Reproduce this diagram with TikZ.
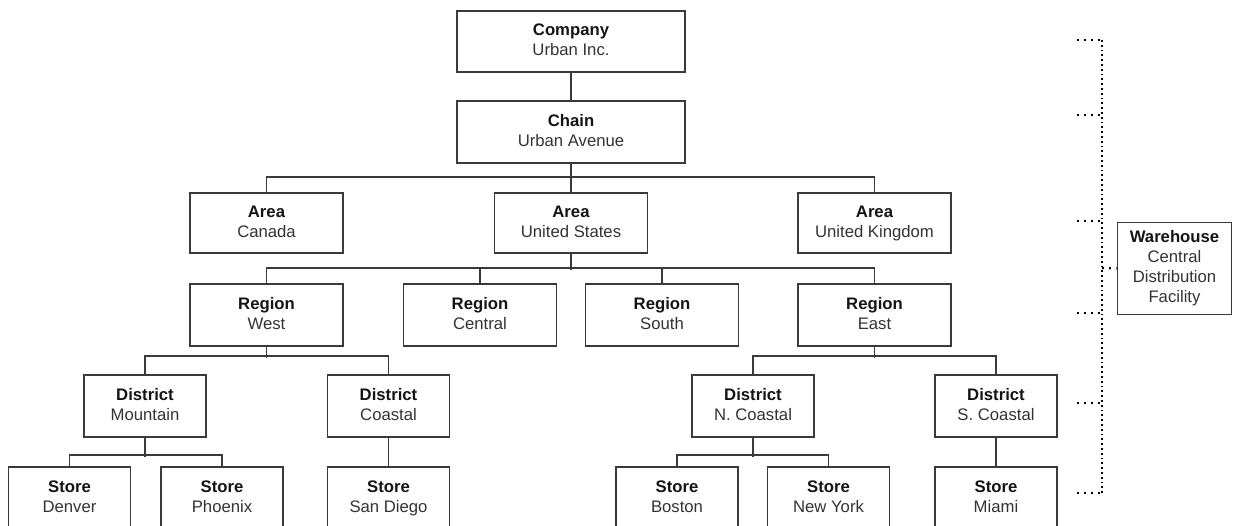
\documentclass[tikz,border=0pt]{standalone}
\usepackage{fontspec}
\setmainfont{Liberation Sans}
\definecolor{boxline}{HTML}{3A3A3A}
\definecolor{titletext}{HTML}{141414}
\definecolor{subtext}{HTML}{333333}
\newcommand{\orgtitle}[1]{{\color{titletext}\bfseries #1}\strut}
\newcommand{\orgsub}[1]{#1\strut}
\begin{document}
\begin{tikzpicture}[x=1pt,y=-1pt,
  orgbox/.style={draw=boxline, line width=1.6pt, rectangle, inner sep=0pt,
    align=center, text=subtext, font=\fontsize{16.7}{20}\selectfont,
    minimum height=61pt},
  wide/.style={orgbox, minimum width=228pt},
  mid/.style={orgbox, minimum width=153pt},
  small/.style={orgbox, minimum width=122pt},
  conn/.style={draw=boxline, line width=1.5pt},
  dotconn/.style={draw=black, line width=2.2pt, dash pattern=on 1.8pt off 3pt},
  tickconn/.style={draw=black, line width=2.2pt, dash pattern=on 1.8pt off 5.2pt}]
\clip (0,0) rectangle (1233,525);
\fill[white] (0,0) rectangle (1233,525);

% level 1-2
\node[wide] (company) at (571,41.5) {\orgtitle{Company}\\\orgsub{Urban Inc.}};
\node[wide, minimum height=62pt] (chain) at (571,132) {\orgtitle{Chain}\\\orgsub{Urban Avenue}};
% areas
\node[mid, minimum height=60pt] (canada) at (266.5,223) {\orgtitle{Area}\\\orgsub{Canada}};
\node[mid, minimum height=60pt] (us) at (571,223) {\orgtitle{Area}\\\orgsub{United States}};
\node[mid, minimum height=60pt] (uk) at (874.5,223) {\orgtitle{Area}\\\orgsub{United Kingdom}};
% regions
\node[mid, minimum height=62pt] (west) at (266.5,315) {\orgtitle{Region}\\\orgsub{West}};
\node[mid, minimum height=62pt] (central) at (480,315) {\orgtitle{Region}\\\orgsub{Central}};
\node[mid, minimum height=62pt] (south) at (662,315) {\orgtitle{Region}\\\orgsub{South}};
\node[mid, minimum height=62pt] (east) at (874.5,315) {\orgtitle{Region}\\\orgsub{East}};
% districts
\node[small, minimum height=62pt] (mountain) at (145,406) {\orgtitle{District}\\\orgsub{Mountain}};
\node[small, minimum height=62pt] (coastal) at (388.5,406) {\orgtitle{District}\\\orgsub{Coastal}};
\node[small, minimum height=62pt] (ncoastal) at (753,406) {\orgtitle{District}\\\orgsub{N. Coastal}};
\node[small, minimum height=62pt] (scoastal) at (996,406) {\orgtitle{District}\\\orgsub{S. Coastal}};
% stores
\node[small, minimum height=62pt] (denver) at (69.5,498) {\orgtitle{Store}\\\orgsub{Denver}};
\node[small, minimum height=62pt] (phoenix) at (222,498) {\orgtitle{Store}\\\orgsub{Phoenix}};
\node[small, minimum height=62pt] (sandiego) at (388.5,498) {\orgtitle{Store}\\\orgsub{San Diego}};
\node[small, minimum height=62pt] (boston) at (677,498) {\orgtitle{Store}\\\orgsub{Boston}};
\node[small, minimum height=62pt] (newyork) at (828.5,498) {\orgtitle{Store}\\\orgsub{New York}};
\node[small, minimum height=62pt] (miami) at (996,498) {\orgtitle{Store}\\\orgsub{Miami}};
% warehouse
\node[orgbox, minimum width=114pt, minimum height=92pt] (warehouse) at (1174.5,268.5)
  {\orgtitle{Warehouse}\\\orgsub{Central}\\\orgsub{Distribution}\\\orgsub{Facility}};

% connectors
\draw[conn] (company) -- (chain);
\draw[conn] (chain.south) -- (us.north);
\draw[conn] (canada.north) -- ++(0,-15) -| (uk.north);
\draw[conn] (us.south) -- ++(0,16);
\draw[conn] (west.north) -- ++(0,-15) -| (east.north);
\draw[conn] (central.north) -- ++(0,-15);
\draw[conn] (south.north) -- ++(0,-15);
\draw[conn] (west.south) -- ++(0,11);
\draw[conn] (mountain.north) -- ++(0,-18) -| (coastal.north);
\draw[conn] (east.south) -- ++(0,11);
\draw[conn] (ncoastal.north) -- ++(0,-18) -| (scoastal.north);
\draw[conn] (mountain.south) -- ++(0,19);
\draw[conn] (denver.north) -- ++(0,-11) -| (phoenix.north);
\draw[conn] (coastal.south) -- (sandiego.north);
\draw[conn] (ncoastal.south) -- ++(0,19);
\draw[conn] (boston.north) -- ++(0,-11) -| (newyork.north);
\draw[conn] (scoastal.south) -- (miami.north);

% dotted level markers
\coordinate (vtop) at (1102,40);
\coordinate (vbot) at (1102,493);
\coordinate (vmid) at (1102,268);
\draw[dotconn] (vtop) -- (vbot);
\foreach \yy in {40,115,221,313,403,493}{
  \coordinate (tk) at (1077,\yy);
  \coordinate (tv) at (1102,\yy);
  \draw[tickconn] (tk) -- (tv);
}
\draw[tickconn] (vmid) -- (warehouse.west);
\end{tikzpicture}
\end{document}
